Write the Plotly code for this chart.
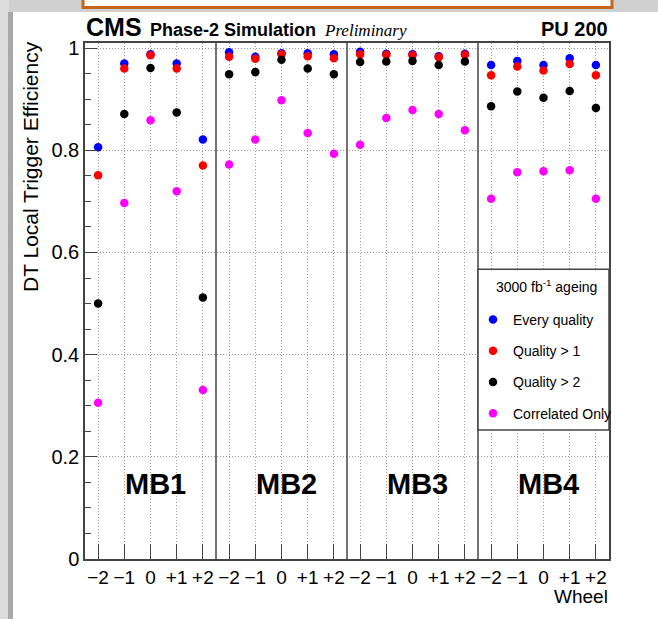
import plotly.graph_objects as go

# ---------------- data ----------------
wheels = ["\u22122", "\u22121", "0", "+1", "+2"]
stations = ["MB1", "MB2", "MB3", "MB4"]
tick_labels = wheels * len(stations)

every_quality = [0.806, 0.970, 0.988, 0.970, 0.821,
                 0.992, 0.983, 0.990, 0.990, 0.988,
                 0.993, 0.989, 0.988, 0.984, 0.989,
                 0.967, 0.975, 0.967, 0.980, 0.967]
quality_gt1 = [0.751, 0.960, 0.986, 0.960, 0.770,
               0.983, 0.979, 0.988, 0.984, 0.980,
               0.988, 0.987, 0.986, 0.982, 0.987,
               0.947, 0.964, 0.956, 0.969, 0.947]
quality_gt2 = [0.500, 0.871, 0.961, 0.874, 0.512,
               0.949, 0.953, 0.977, 0.960, 0.949,
               0.973, 0.974, 0.975, 0.967, 0.974,
               0.886, 0.915, 0.903, 0.916, 0.883]
correlated_only = [0.306, 0.697, 0.859, 0.720, 0.331,
                   0.772, 0.821, 0.898, 0.834, 0.793,
                   0.811, 0.863, 0.879, 0.871, 0.839,
                   0.705, 0.757, 0.759, 0.761, 0.705]

series_names = ["Every quality", "Quality > 1", "Quality > 2", "Correlated Only"]
series_values = [every_quality, quality_gt1, quality_gt2, correlated_only]
series_colors = ["#0000ff", "#ff0000", "#000000", "#ff00ff"]
legend_header = "3000 fb<sup>-1</sup> ageing"

x_bins = list(range(len(tick_labels)))

# ---------------- figure ----------------
W, H = 658, 619
L, R, T, B = 85, 49, 43, 60
PW, PH = W - L - R, H - T - B

def px_x(p):
    return (p - L) / PW

def px_y(p):
    return (H - B - p) / PH

FONT = "Liberation Sans, Arial, Helvetica, sans-serif"
SERIF = "Liberation Serif, Times New Roman, serif"

fig = go.Figure()
for i, (name, vals, col) in enumerate(zip(series_names, series_values, series_colors)):
    fig.add_trace(go.Scatter(
        x=x_bins, y=vals, mode="markers", name=name,
        marker=dict(color=col, size=8.5, line=dict(width=0)),
        legendgroup="g%d" % i, hoverinfo="skip",
    ))

frame_col = "#444444"
grid_col = "#9a9a9a"

shapes = []
# page decorations (shadow strips and orange box)
shapes.append(dict(type="rect", xref="paper", yref="paper",
                   x0=px_x(0), x1=px_x(W), y0=px_y(12), y1=px_y(-5),
                   fillcolor="#d0d0d0", line=dict(width=0), layer="below"))
shapes.append(dict(type="rect", xref="paper", yref="paper",
                   x0=px_x(-5), x1=px_x(9), y0=px_y(H + 5), y1=px_y(-5),
                   fillcolor="#dcdcdc", line=dict(width=0), layer="below"))
shapes.append(dict(type="rect", xref="paper", yref="paper",
                   x0=px_x(8), x1=px_x(13), y0=px_y(H + 5), y1=px_y(12),
                   fillcolor="#a8a8a8", line=dict(width=0), layer="below"))
shapes.append(dict(type="rect", xref="paper", yref="paper",
                   x0=px_x(83), x1=px_x(612), y0=px_y(7.5), y1=px_y(-10),
                   fillcolor="#ffffff", line=dict(width=3, color="#c4661c"), layer="below"))

# station separators
for k in range(1, len(stations)):
    xs = k * len(wheels) - 0.5
    shapes.append(dict(type="line", xref="x", yref="paper", x0=xs, x1=xs, y0=0, y1=1,
                       line=dict(color=frame_col, width=1.5)))

# legend box
shapes.append(dict(type="rect", xref="x", yref="y",
                   x0=3 * len(wheels) - 0.5, x1=len(tick_labels) - 0.5,
                   y0=0.2524, y1=0.567,
                   fillcolor="#ffffff", line=dict(color=frame_col, width=1.5), layer="above"))

annotations = []
for k, st in enumerate(stations):
    annotations.append(dict(x=k * len(wheels) + 2, y=0.147, xref="x", yref="y",
                            text="<b>%s</b>" % st, showarrow=False, xshift=5,
                            font=dict(family=FONT, size=29, color="black"),
                            xanchor="center", yanchor="middle"))

annotations += [
    dict(x=px_x(84), y=px_y(27), xref="paper", yref="paper", text="<b>CMS</b>",
         showarrow=False, xanchor="left", yanchor="middle",
         font=dict(family=FONT, size=25, color="black")),
    dict(x=px_x(148), y=px_y(30), xref="paper", yref="paper", text="<b>Phase-2 Simulation</b>",
         showarrow=False, xanchor="left", yanchor="middle",
         font=dict(family=FONT, size=18, color="black")),
    dict(x=px_x(322), y=px_y(31), xref="paper", yref="paper", text="<i>Preliminary</i>",
         showarrow=False, xanchor="left", yanchor="middle",
         font=dict(family=SERIF, size=17, color="black")),
    dict(x=px_x(610), y=px_y(29), xref="paper", yref="paper", text="<b>PU 200</b>",
         showarrow=False, xanchor="right", yanchor="middle",
         font=dict(family=FONT, size=20, color="black")),
    dict(x=px_x(610), y=px_y(596), xref="paper", yref="paper", text="Wheel",
         showarrow=False, xanchor="right", yanchor="middle",
         font=dict(family=FONT, size=19, color="black")),
    dict(x=px_x(30), y=px_y(167), xref="paper", yref="paper", text="DT Local Trigger Efficiency",
         showarrow=False, xanchor="center", yanchor="middle", textangle=-90,
         font=dict(family=FONT, size=21, color="black")),
    dict(x=px_x(494), y=px_y(286), xref="paper", yref="paper", text=legend_header,
         showarrow=False, xanchor="left", yanchor="middle",
         font=dict(family=FONT, size=14, color="black")),
]

fig.update_layout(
    width=W, height=H,
    margin=dict(l=L, r=R, t=T, b=B, pad=0),
    paper_bgcolor="white", plot_bgcolor="white",
    font=dict(family=FONT, color="black"),
    showlegend=True,
    hovermode=False,
    legend=dict(x=px_x(473), y=px_y(304), xanchor="left", yanchor="top",
                bgcolor="rgba(0,0,0,0)", borderwidth=0,
                font=dict(family=FONT, size=14, color="black"),
                traceorder="grouped", tracegroupgap=10, itemclick=False,
                itemdoubleclick=False),
    shapes=shapes,
    annotations=annotations,
    xaxis=dict(range=[-0.5, len(tick_labels) - 0.5], tickmode="array",
               tickvals=x_bins, ticktext=tick_labels,
               ticks="inside", ticklen=15, tickwidth=1, tickcolor=frame_col,
               showgrid=True, gridcolor=grid_col, griddash="1px,2px", gridwidth=1,
               showline=True, mirror=True, linecolor=frame_col, linewidth=1.5,
               zeroline=False, tickfont=dict(family=FONT, size=19, color="black")),
    yaxis=dict(range=[0, 1.01], tick0=0, dtick=0.2,
               ticks="inside", ticklen=12, tickwidth=1, tickcolor=frame_col,
               minor=dict(dtick=0.05, ticks="inside", ticklen=6, tickcolor=frame_col,
                          showgrid=False),
               showgrid=True, gridcolor=grid_col, griddash="1px,2px", gridwidth=1,
               showline=True, mirror=True, linecolor=frame_col, linewidth=1.5,
               zeroline=False, tickfont=dict(family=FONT, size=20, color="black")),
)

fig.write_html("out.html",
               config={"displayModeBar": False, "staticPlot": False},
               post_script="document.body.style.margin='0px';document.body.style.overflow='hidden';")
